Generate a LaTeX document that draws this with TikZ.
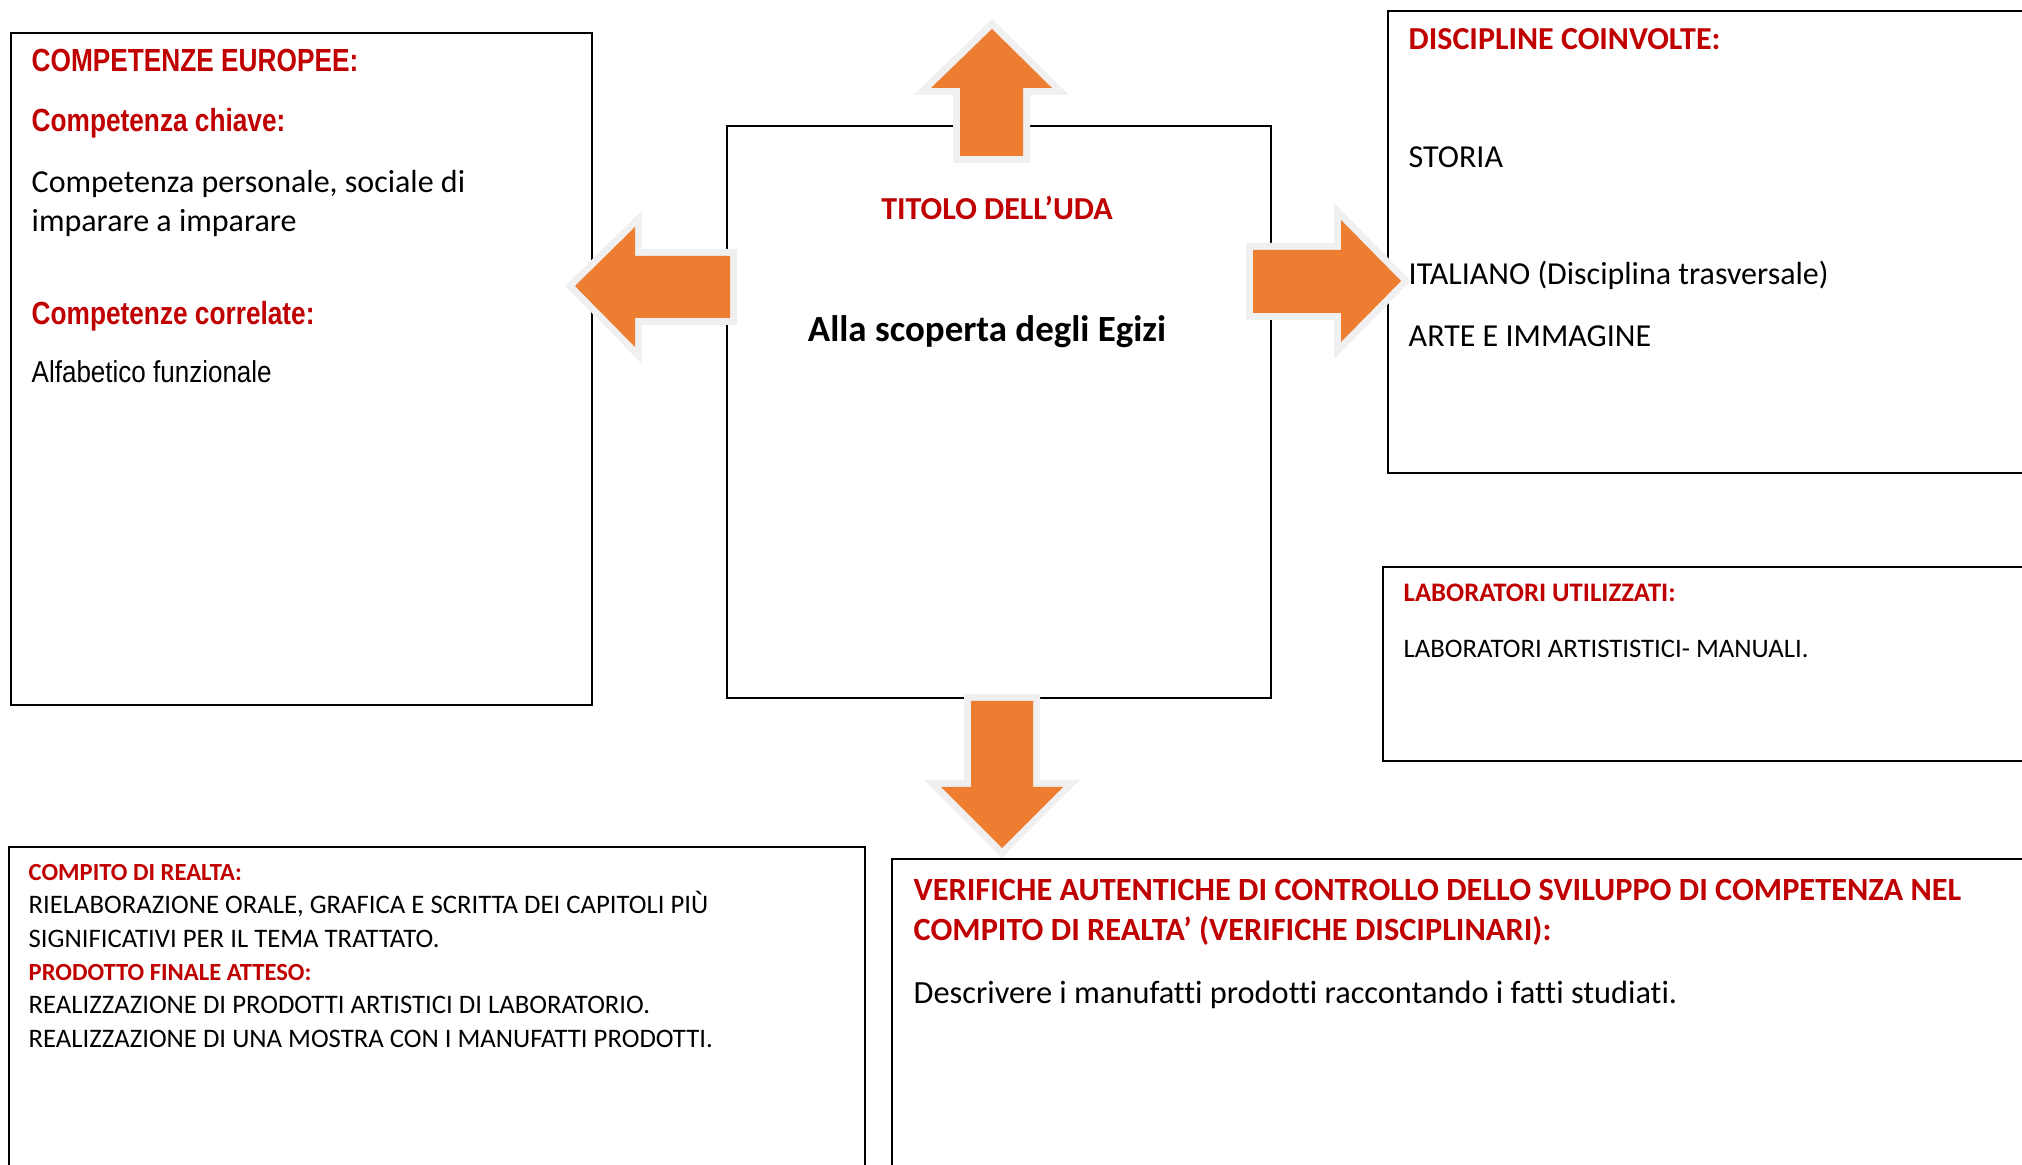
\documentclass[tikz,border=0pt]{standalone}
\usepackage{fontspec}
\setmainfont[Ligatures=NoCommon]{Carlito}
\newfontfamily\narrowfont[FakeStretch=0.82]{Liberation Sans}
\newfontfamily\narrowtext[FakeStretch=0.86]{Liberation Sans}
\definecolor{udared}{HTML}{C00000}
\definecolor{udaorange}{HTML}{ED7D31}
\definecolor{udagray}{HTML}{F0F0F0}
\def\px{0.01cm}
\tikzset{
     box/.style={draw, line width=0.5pt, rectangle, anchor=north west, inner sep=0pt},
     txt/.style={anchor=base west, inner sep=0pt},
     head/.style={txt, text=udared, font=\bfseries#1},
     txtA/.style={txt, font=\fontsize{9.1}{11}\selectfont},
     headA/.style={txt, text=udared, font=\narrowfont\bfseries\fontsize{9.1}{11}\selectfont},
     txtB/.style={txt, font=\fontsize{7.6}{9}\selectfont},
     headB/.style={txt, text=udared, font=\fontsize{7}{9}\selectfont\bfseries},
     txtC/.style={txt, font=\fontsize{9.2}{11}\selectfont},
     headC/.style={txt, text=udared, font=\fontsize{9.2}{11}\selectfont\bfseries},
     blockarrow/.style={fill=udaorange, line join=miter,
          preaction={draw=udagray, line width=14*\px, line join=miter}},
}

\begin{document}
\begin{tikzpicture}[x=\px, y=-\px]
     \clip (0,0) rectangle (2022,1165);

     % boxes
     \node[box, minimum width=581*\px, minimum height=672*\px] (europee) at (10,32) {};
     \node[box, minimum width=544*\px, minimum height=572*\px] (titolo) at (726,125) {};
     \node[box, minimum width=700*\px, minimum height=462*\px] (discipline) at (1387,10) {};
     \node[box, minimum width=700*\px, minimum height=194*\px] (laboratori) at (1382,566) {};
     \node[box, minimum width=856*\px, minimum height=400*\px] (compito) at (8,846) {};
     \node[box, minimum width=1200*\px, minimum height=400*\px] (verifiche) at (891,858) {};

     % competenze europee
     \node[headA] (e1) at (31,72) {COMPETENZE EUROPEE:};
     \node[headA] (e2) at (31,132) {Competenza chiave:};
     \node[txtA] (e3) at (31,193) {Competenza personale, sociale di};
     \node[txtA] (e4) at (31,232) {imparare a imparare};
     \node[headA] (e5) at (31,325) {Competenze correlate:};
     \node[txt, font=\narrowtext\fontsize{8.6}{10}\selectfont] (e6) at (31,383) {Alfabetico funzionale};

     % titolo
     \node[anchor=base, inner sep=0pt, text=udared, font=\bfseries\fontsize{9.1}{11}\selectfont]
          (t1) at (997,220) {TITOLO DELL’UDA};
     \node[anchor=base, inner sep=0pt, font=\bfseries\fontsize{10.5}{12}\selectfont]
          (t2) at (987,342) {Alla scoperta degli Egizi};

     % discipline
     \node[head={\fontsize{9.1}{11}\selectfont}] (d0) at (1408,50) {DISCIPLINE COINVOLTE:};
     \foreach \y/\t in {168/STORIA, 285/{ITALIANO (Disciplina trasversale)}, 347/{ARTE E IMMAGINE}}{
          \node[txtA] (d\y) at (1408,\y) {\t};
     }

     % laboratori
     \node[head={\fontsize{7.6}{9}\selectfont}] (l1) at (1403,602) {LABORATORI UTILIZZATI:};
     \node[txt, font=\fontsize{7.6}{9}\selectfont] (l2) at (1403,658) {LABORATORI ARTISTISTICI- MANUALI.};

     % compito di realta
     \node[headB] (c1) at (28,880) {COMPITO DI REALTA:};
     \node[txtB] (c2) at (28,913) {RIELABORAZIONE ORALE, GRAFICA E SCRITTA DEI CAPITOLI PIÙ};
     \node[txtB] (c3) at (28,948) {SIGNIFICATIVI PER IL TEMA TRATTATO.};
     \node[headB] (c4) at (28,980) {PRODOTTO FINALE ATTESO:};
     \node[txtB] (c5) at (28,1013) {REALIZZAZIONE DI PRODOTTI ARTISTICI DI LABORATORIO.};
     \node[txtB] (c6) at (28,1047) {REALIZZAZIONE DI UNA MOSTRA CON I MANUFATTI PRODOTTI.};

     % verifiche
     \node[headC] (v1) at (913,900) {VERIFICHE AUTENTICHE DI CONTROLLO DELLO SVILUPPO DI COMPETENZA NEL};
     \node[headC] (v2) at (913,940) {COMPITO DI REALTA’ (VERIFICHE DISCIPLINARI):};
     \node[txtC] (v3) at (913,1003) {Descrivere i manufatti prodotti raccontando i fatti studiati.};

     % arrows
     \path[blockarrow] (960,156) -- (960,88) -- (931,88) -- (992,29) -- (1052,88)
          -- (1023,88) -- (1023,156) -- cycle;
     \path[blockarrow] (730,256) -- (635,256) -- (635,227) -- (575,286) -- (635,347)
          -- (635,318) -- (730,318) -- cycle;
     \path[blockarrow] (1253,250) -- (1341,250) -- (1341,220) -- (1401,281) -- (1341,342)
          -- (1341,313) -- (1253,313) -- cycle;
     \path[blockarrow] (971,701) -- (1033,701) -- (1033,787) -- (1063,787) -- (1002,848)
          -- (941,787) -- (971,787) -- cycle;
\end{tikzpicture}
\end{document}
